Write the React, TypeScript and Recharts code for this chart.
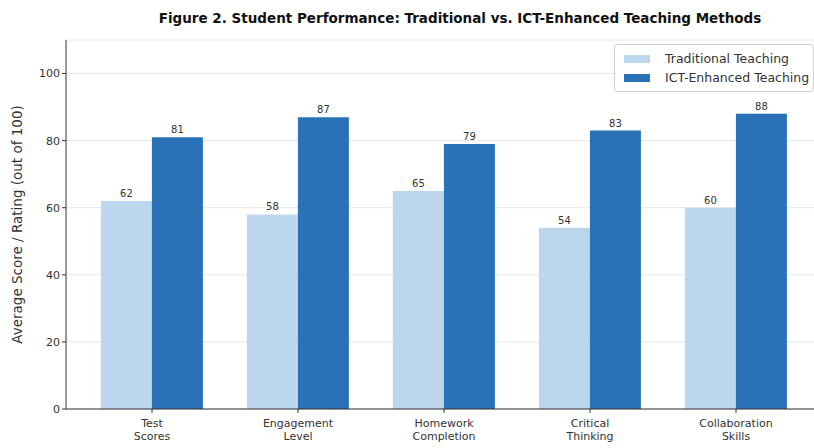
import { Bar, BarChart, CartesianGrid, LabelList, XAxis, YAxis } from 'recharts';

const categories = ['Test Scores', 'Engagement Level', 'Homework Completion', 'Critical Thinking', 'Collaboration Skills'];
const traditional = [62, 58, 65, 54, 60];
const ictEnhanced = [81, 87, 79, 83, 88];
const yTicks = [0, 20, 40, 60, 80, 100];

const LIGHT = '#bcd6ee';
const DARK = '#2a72b8';
const FONT = '"DejaVu Sans", sans-serif';

const data = categories.map((name, i) => ({
  name,
  traditional: traditional[i],
  ict: ictEnhanced[i],
}));

function CategoryTick(props: any) {
  const { x, y, payload } = props;
  const lines = String(payload.value).split(' ');
  return (
    <g transform={`translate(${x},${y})`}>
      {lines.map((line, i) => (
        <text key={i} x={0} y={12 + i * 13} textAnchor="middle" fontSize={11} fill="#333" fontFamily={FONT}>
          {line}
        </text>
      ))}
    </g>
  );
}

// drawn as an overlay so it does not push the plot area down
function LegendBox() {
  const items = [
    { label: 'Traditional Teaching', color: LIGHT },
    { label: 'ICT-Enhanced Teaching', color: DARK },
  ];
  return (
    <div
      style={{
        position: 'absolute',
        top: 44,
        left: 614,
        border: '1px solid #d0d0d0',
        borderRadius: 3,
        background: 'rgba(255,255,255,0.9)',
        padding: '4px 4px 4px 9px',
        fontFamily: FONT,
        fontSize: 12.5,
        color: '#333',
        whiteSpace: 'nowrap',
      }}
    >
      {items.map((it) => (
        <div key={it.label} style={{ display: 'flex', alignItems: 'center', height: 19 }}>
          <span style={{ display: 'inline-block', width: 26, height: 8, background: it.color, marginRight: 15 }} />
          <span>{it.label}</span>
        </div>
      ))}
    </div>
  );
}

export default function App() {
  return (
    <div style={{ position: 'absolute', left: 0, top: 0, width: 814, height: 448, background: '#fff', overflow: 'hidden' }}>
      <div
        style={{
          position: 'absolute',
          left: 106,
          width: 708,
          top: 10,
          textAlign: 'center',
          fontFamily: FONT,
          fontWeight: 'bold',
          fontSize: 13.5,
          color: '#111',
        }}
      >
        Figure 2. Student Performance: Traditional vs. ICT-Enhanced Teaching Methods
      </div>
      <BarChart
        width={814}
        height={448}
        data={data}
        margin={{ top: 40, right: 0, bottom: 0, left: 0 }}
        barCategoryGap="15%"
        barGap={0}
      >
        <CartesianGrid vertical={false} stroke="#e6e6e6" />
        <XAxis
          dataKey="name"
          height={39}
          padding={{ left: 13, right: 5 }}
          tick={<CategoryTick />}
          tickSize={4}
          interval={0}
          stroke="#333"
          tickLine={{ stroke: '#333' }}
        />
        <YAxis
          width={66}
          domain={[0, 110]}
          ticks={yTicks}
          tickSize={4}
          stroke="#333"
          tick={{ fontSize: 11, fill: '#333', fontFamily: FONT }}
          label={{
            value: 'Average Score / Rating (out of 100)',
            angle: -90,
            position: 'insideLeft',
            offset: 17,
            style: { textAnchor: 'middle', fontSize: 13.5, fill: '#333', fontFamily: FONT },
          }}
        />
        <Bar dataKey="traditional" name="Traditional Teaching" fill={LIGHT} isAnimationActive={false}>
          <LabelList dataKey="traditional" position="top" offset={4} fontSize={10} fill="#333" fontFamily={FONT} />
        </Bar>
        <Bar dataKey="ict" name="ICT-Enhanced Teaching" fill={DARK} isAnimationActive={false}>
          <LabelList dataKey="ict" position="top" offset={4} fontSize={10} fill="#333" fontFamily={FONT} />
        </Bar>
      </BarChart>
      <LegendBox />
    </div>
  );
}
